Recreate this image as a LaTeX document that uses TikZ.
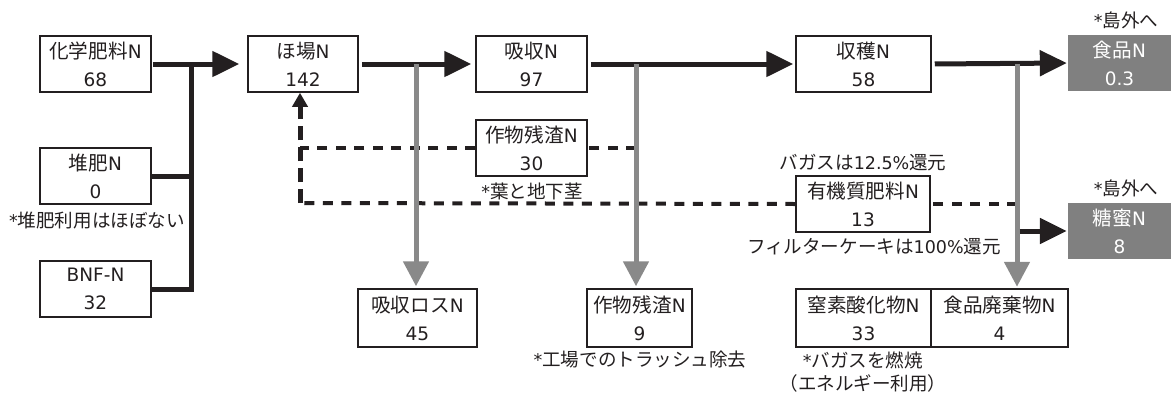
\documentclass[tikz,border=0pt]{standalone}
\usepackage{fontspec}
\setmainfont{DejaVu Sans}
\newfontfamily\jpfont{Noto Sans CJK JP}[Scale=1.06]
\newcommand{\jtxt}[1]{{\jpfont #1}}
\usetikzlibrary{arrows.meta}
\definecolor{ink}{RGB}{35,31,32}
\definecolor{flowgray}{RGB}{137,137,137}
\definecolor{boxgray}{RGB}{128,128,128}
\begin{document}
\begin{tikzpicture}[x=1pt,y=-1pt,
 box/.style={draw=ink,line width=1.5pt,minimum height=56pt,inner sep=0pt,align=center,
   font=\fontsize{18.5}{28}\selectfont,text=ink},
 outbox/.style={fill=boxgray,minimum height=56pt,minimum width=103pt,inner sep=0pt,align=center,
   font=\fontsize{18.5}{28}\selectfont,text=white},
 mainflow/.style={draw=ink,line width=5pt},
 mainarrow/.style={mainflow,-{Triangle[length=27pt,width=25pt]}},
 lossarrow/.style={draw=flowgray,line width=5pt,-{Triangle[length=25pt,width=25pt]}},
 retline/.style={draw=ink,line width=4pt,dash pattern=on 10pt off 8.5pt},
 retvert/.style={draw=ink,line width=5pt,dash pattern=on 14pt off 7pt,-{Triangle[length=14pt,width=15pt]}},
 note/.style={font=\fontsize{17.5}{22}\selectfont,text=ink,inner sep=0pt}
]
\useasboundingbox (0,0) rectangle (1171,394);
% boxes
\node[box,minimum width=111pt] (chem) at (95.5,64) {\jtxt{化学肥料}N\\68};
\node[box,minimum width=111pt] (compost) at (95.5,176) {\jtxt{堆肥}N\\0};
\node[box,minimum width=111pt] (bnf) at (95.5,289) {BNF-N\\32};
\node[box,minimum width=110pt] (field) at (303,64) {\jtxt{ほ場}N\\142};
\node[box,minimum width=111pt] (absorb) at (531.5,64) {\jtxt{吸収}N\\97};
\node[box,minimum width=111pt] (res30) at (531.5,148) {\jtxt{作物残渣}N\\30};
\node[box,minimum width=135pt] (harvest) at (863.5,64) {\jtxt{収穫}N\\58};
\node[box,minimum width=134pt] (organic) at (863,204) {\jtxt{有機質肥料}N\\13};
\node[box,minimum width=119pt,minimum height=58pt] (loss) at (417.5,318) {\jtxt{吸収ロス}N\\45};
\node[box,minimum width=105pt,minimum height=58pt] (res9) at (639.5,318) {\jtxt{作物残渣}N\\9};
\node[box,minimum width=135pt,minimum height=58pt] (nox) at (863.5,318) {\jtxt{窒素酸化物}N\\33};
\node[box,minimum width=137pt,minimum height=58pt] (waste) at (999.5,318) {\jtxt{食品廃棄物}N\\4};
\node[outbox] (food) at (1119.5,63) {\jtxt{食品}N\\0.3};
\node[outbox] (molasses) at (1119.5,231) {\jtxt{糖蜜}N\\8};
% notes
\node[note] (n1) at (97,220) {*\jtxt{堆肥利用はほぼない}};
\node[note] (n2) at (532,191) {*\jtxt{葉と地下茎}};
\node[note] (n3) at (640,360) {*\jtxt{工場でのトラッシュ除去}};
\node[note] (n4) at (863,163) {\jtxt{バガスは}12.5\%\jtxt{還元}};
\node[note] (n5) at (874,247) {\jtxt{フィルターケーキは}100\%\jtxt{還元}};
\node[note] (n6) at (863,360) {*\jtxt{バガスを燃焼}};
\node[note] (n7) at (863,383) {\jtxt{（エネルギー利用）}};
\node[note] (n8) at (1126,20) {*\jtxt{島外へ}};
\node[note] (n9) at (1126,188) {*\jtxt{島外へ}};
% junction coordinates
\coordinate (jA) at (191,64);
\coordinate (gL) at (416,64);
\coordinate (gM) at (636,64);
\coordinate (gR) at (1017,64);
\coordinate (retc) at (300,203);
% return (dashed) flows
\draw[retline] (gM |- res30.east) -- (res30.east);
\draw[retline] (res30.west) -- (res30.west -| retc);
\draw[retline] (gR |- organic.east) -- (organic.east);
\draw[retline] (organic.west) -- (retc);
\draw[retvert] (retc) -- ([xshift=-3pt]field.south);
% inputs
\draw[mainflow,line join=miter] (compost.east) -| (jA);
\draw[mainflow,line join=miter] (bnf.east) -| (jA);
\draw[mainarrow,shorten <=1pt,shorten >=8pt] (chem.east) -- (field.west);
% main flow
\draw[mainarrow,shorten <=3pt,shorten >=4pt] (field.east) -- (absorb.west);
\draw[mainarrow,shorten <=3pt,shorten >=2pt] (absorb.east) -- (harvest.west);
\draw[mainarrow,shorten <=3pt,shorten >=1pt] (harvest.east) -- (food.west);
% losses
\draw[lossarrow,shorten >=2pt] (gL) -- (gL |- loss.north);
\draw[lossarrow,shorten >=2pt] (gM) -- (gM |- res9.north);
\draw[lossarrow,shorten >=1.5pt] (gR) -- (gR |- waste.north);
% molasses
\draw[mainarrow,shorten <=2.5pt,shorten >=1pt] (gR |- molasses.west) -- (molasses.west);
\end{tikzpicture}
\end{document}
